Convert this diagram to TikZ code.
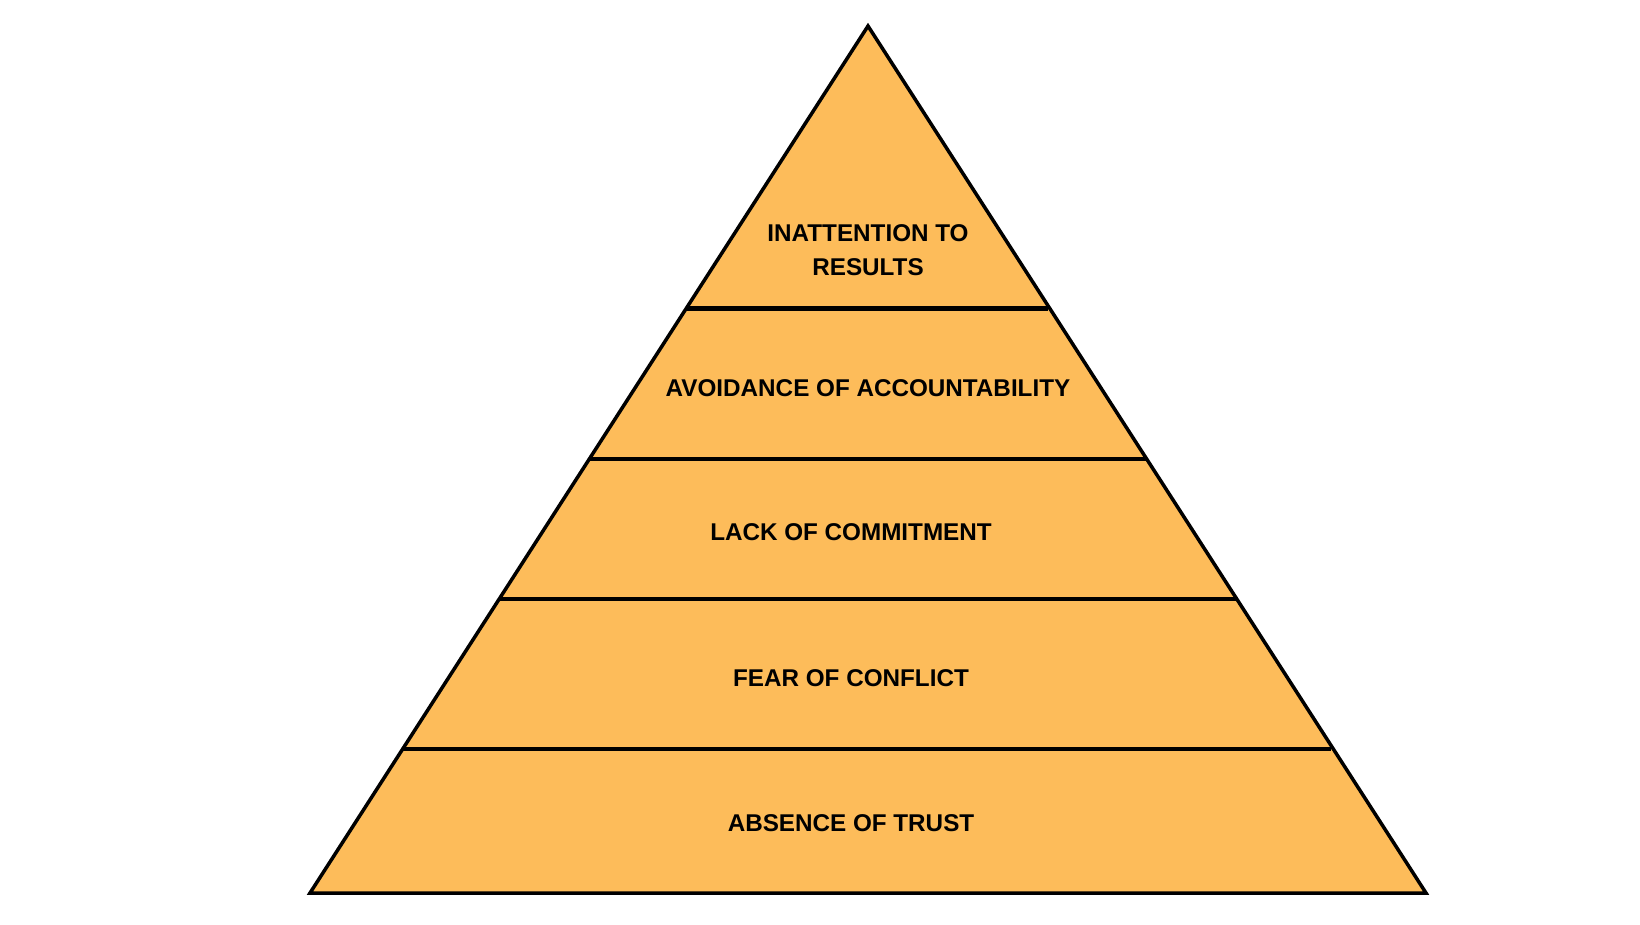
\documentclass[tikz,border=0pt]{standalone}
\usepackage{fontspec}
\setmainfont{Liberation Sans}
\usepackage{tikz}
\usetikzlibrary{calc,positioning}
\definecolor{pyrfill}{HTML}{FDBC5A}

\begin{document}
\begin{tikzpicture}[x=0.02cm, y=-0.02cm]
\tikzstyle{lvl}=[draw=none,text centered,font=\fontsize{13.8}{19}\selectfont\bfseries]
\tikzstyle{edge}=[line width=2pt]
\tikzstyle{sep}=[line width=2.4pt]
\useasboundingbox (0,0) rectangle (1640,924);
\coordinate (top) at (868,26);
\coordinate (bl) at (310,893);
\coordinate (br) at (1426,893);
\coordinate (l1) at (687,308.5);
\coordinate (r1) at (1048,308.5);
\coordinate (l2) at (589,459);
\coordinate (r2) at (1147,459);
\coordinate (l3) at (500,599);
\coordinate (r3) at (1236,599);
\coordinate (l4) at (403,749);
\coordinate (r4) at (1331,749);
\filldraw[fill=pyrfill,edge] (top) -- (br) -- (bl) -- cycle;
\draw[sep] (l1) -- (r1);
\draw[sep] (l2) -- (r2);
\draw[sep] (l3) -- (r3);
\draw[sep] (l4) -- (r4);
\node[lvl,align=center] (t1) at (868,250) {INATTENTION TO\\RESULTS};
\node[lvl] (t2) at (868,388) {AVOIDANCE OF ACCOUNTABILITY};
\node[lvl] (t3) at (851,532) {LACK OF COMMITMENT};
\node[lvl] (t4) at (851,678) {FEAR OF CONFLICT};
\node[lvl] (t5) at (851,823) {ABSENCE OF TRUST};
\end{tikzpicture}
\end{document}
